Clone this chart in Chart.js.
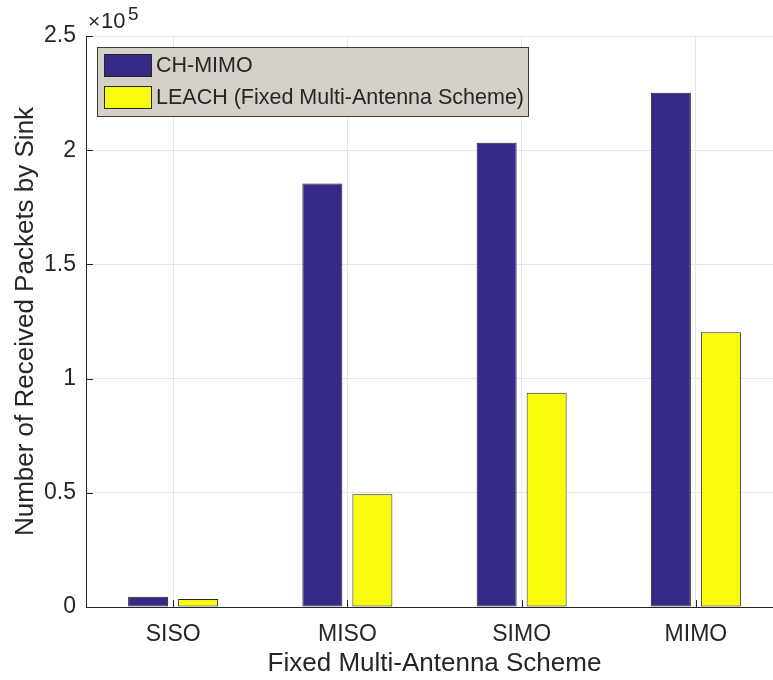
<!DOCTYPE html>
<html>
<head>
<meta charset="utf-8">
<title>Received packets by sink</title>
<script src="https://cdn.jsdelivr.net/npm/chart.js@4.4.1/dist/chart.umd.min.js"></script>
<style>
  html, body { margin: 0; padding: 0; background: #ffffff; overflow: hidden; }
  #wrap { position: relative; width: 790px; height: 680px; }
</style>
</head>
<body>
<div id="wrap"><canvas id="chart"></canvas></div>
<script>
// Antenna schemes on the x axis
const schemes = ['SISO', 'MISO', 'SIMO', 'MIMO'];
// Packets received by the sink for each protocol
const chMimo = [4500, 185400, 203300, 225200];
const leach  = [3500, 49400, 93800, 120300];
const seriesNames = ['CH-MIMO', 'LEACH (Fixed Multi-Antenna Scheme)'];
// Y tick values (in packets)
const yTicks = [0, 50000, 100000, 150000, 200000, 250000];
const yScaleExp = 5;

const FONT = '"Liberation Sans", Arial, Helvetica, sans-serif';
const TEXT = '#262626';

// Inward-pointing tick marks along the bottom and left axes
const innerTicks = {
  id: 'innerTicks',
  afterDraw(chart) {
    const { ctx, chartArea, scales } = chart;
    ctx.save();
    ctx.strokeStyle = TEXT;
    ctx.lineWidth = 1;
    ctx.beginPath();
    scales.x.ticks.forEach((t, i) => {
      const x = Math.round(scales.x.getPixelForTick(i)) + 0.5;
      ctx.moveTo(x, chartArea.bottom);
      ctx.lineTo(x, chartArea.bottom - 7);
    });
    scales.y.ticks.forEach((t, i) => {
      const y = Math.round(scales.y.getPixelForTick(i)) + 0.5;
      ctx.moveTo(chartArea.left, y);
      ctx.lineTo(chartArea.left + 7, y);
    });
    ctx.stroke();
    ctx.restore();
  }
};

// Exponent marker above the y axis
const exponentLabel = {
  id: 'exponentLabel',
  afterDraw(chart) {
    const { ctx, chartArea } = chart;
    ctx.save();
    ctx.fillStyle = TEXT;
    ctx.textAlign = 'left';
    ctx.textBaseline = 'alphabetic';
    ctx.font = '21px ' + FONT;
    ctx.fillText('\u00d7', chartArea.left + 2, 28);
    ctx.font = '22px ' + FONT;
    ctx.fillText('10', chartArea.left + 15, 28);
    ctx.font = '19px ' + FONT;
    ctx.fillText(String(yScaleExp), chartArea.left + 42, 20);
    ctx.restore();
  }
};

// Boxed legend inside the plot area
const boxLegend = {
  id: 'boxLegend',
  afterDraw(chart, args, opts) {
    const { ctx } = chart;
    ctx.save();
    ctx.fillStyle = opts.background;
    ctx.fillRect(opts.x, opts.y, opts.width, opts.height);
    ctx.strokeStyle = opts.border;
    ctx.lineWidth = 1;
    ctx.strokeRect(opts.x + 0.5, opts.y + 0.5, opts.width - 1, opts.height - 1);
    ctx.font = opts.fontSize + 'px ' + FONT;
    ctx.textBaseline = 'middle';
    ctx.textAlign = 'left';
    chart.data.datasets.forEach((ds, i) => {
      const top = opts.y + opts.padTop + i * opts.rowStep;
      ctx.fillStyle = ds.backgroundColor;
      ctx.fillRect(opts.x + opts.swX, top, opts.swW, opts.swH);
      ctx.strokeStyle = TEXT;
      ctx.strokeRect(opts.x + opts.swX + 0.5, top + 0.5, opts.swW - 1, opts.swH - 1);
      ctx.fillStyle = TEXT;
      ctx.fillText(ds.label, opts.x + opts.textX, top + opts.swH / 2 + 1);
    });
    ctx.restore();
  }
};

new Chart(document.getElementById('chart'), {
  type: 'bar',
  data: {
    labels: schemes,
    datasets: [
      {
        label: seriesNames[0],
        data: chMimo,
        backgroundColor: '#352a87',
        borderColor: '#262626',
        borderWidth: 1,
        borderSkipped: false,
        barPercentage: 0.8,
        categoryPercentage: 0.574
      },
      {
        label: seriesNames[1],
        data: leach,
        backgroundColor: '#f9fb0e',
        borderColor: '#262626',
        borderWidth: 1,
        borderSkipped: false,
        barPercentage: 0.8,
        categoryPercentage: 0.574
      }
    ]
  },
  options: {
    responsive: true,
    maintainAspectRatio: false,
    animation: false,
    layout: { padding: { left: 0, top: 36, right: 7, bottom: 0 } },
    plugins: {
      legend: { display: false },
      tooltip: { enabled: false },
      boxLegend: {
        x: 97, y: 47, width: 432, height: 70,
        background: '#d4d0c8', border: '#3a3a3a',
        swX: 7, swW: 48, swH: 23, padTop: 7, rowStep: 32,
        textX: 59, fontSize: 21.5
      }
    },
    scales: {
      x: {
        type: 'category',
        offset: true,
        grid: { display: true, color: '#e6e6e6', drawTicks: false, offset: false },
        border: { display: true, color: TEXT, width: 1 },
        ticks: { color: TEXT, font: { family: FONT, size: 23 }, padding: 14, maxRotation: 0 },
        title: {
          display: true, text: 'Fixed Multi-Antenna Scheme', color: TEXT,
          font: { family: FONT, size: 26 }, padding: { top: 0, bottom: 1 }
        },
        afterFit(s) { s.height = 73; }
      },
      y: {
        min: 0,
        max: 250000,
        afterBuildTicks(s) { s.ticks = yTicks.map(v => ({ value: v })); },
        grid: { display: true, color: '#e6e6e6', drawTicks: false },
        border: { display: true, color: TEXT, width: 1 },
        ticks: {
          color: TEXT, font: { family: FONT, size: 23 }, padding: 10,
          callback: v => String(v / Math.pow(10, yScaleExp))
        },
        title: {
          display: true, text: 'Number of Received Packets by Sink', color: TEXT,
          font: { family: FONT, size: 26 }, padding: { top: 10, bottom: 0 }
        },
        afterFit(s) { s.width = 86; }
      }
    }
  },
  plugins: [innerTicks, exponentLabel, boxLegend]
});
</script>
</body>
</html>
